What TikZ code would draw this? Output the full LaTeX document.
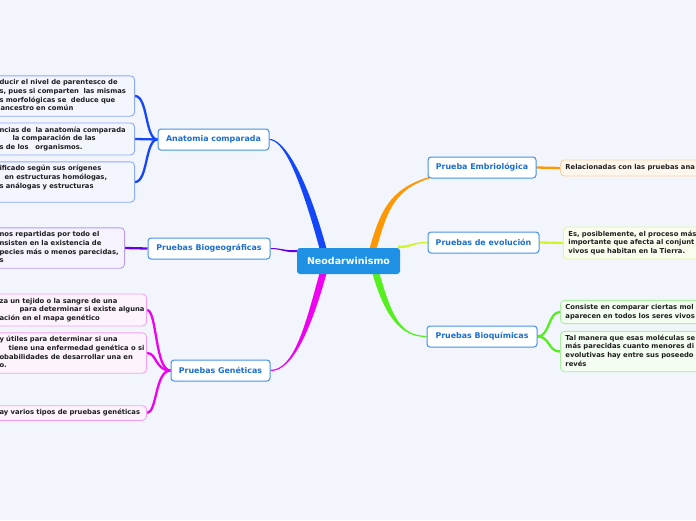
\documentclass[tikz,border=0pt]{standalone}
\usepackage{fontspec}
\setmainfont{DejaVu Sans}
\usetikzlibrary{calc,backgrounds}
\definecolor{bgc}{RGB}{243,245,253}
\definecolor{cA}{RGB}{20,70,250}
\definecolor{cB}{RGB}{100,0,230}
\definecolor{cG}{RGB}{240,0,240}
\definecolor{cE}{RGB}{255,152,0}
\definecolor{cV}{RGB}{205,245,40}
\definecolor{cQ}{RGB}{85,238,30}
\definecolor{topicborder}{RGB}{70,145,230}
\definecolor{topictext}{RGB}{28,110,210}
\definecolor{neofill}{RGB}{30,145,228}
\definecolor{bA}{RGB}{140,170,250}\definecolor{fA}{RGB}{243,246,255}
\definecolor{bB}{RGB}{185,155,240}\definecolor{fB}{RGB}{246,243,255}
\definecolor{bG}{RGB}{245,160,245}\definecolor{fG}{RGB}{253,243,253}
\definecolor{bE}{RGB}{250,210,160}\definecolor{fE}{RGB}{255,247,237}
\definecolor{bV}{RGB}{225,245,170}\definecolor{fV}{RGB}{250,253,238}
\definecolor{bQ}{RGB}{170,240,160}\definecolor{fQ}{RGB}{243,253,241}
\newenvironment{lines}{\renewcommand\arraystretch{1}\setlength\tabcolsep{0pt}\begin{tabular}{@{}l@{}}}{\end{tabular}}
% tapered branch: color, start, ctrl1, ctrl2, end, start half-width, end half-width
\newcommand\taper[7]{\fill[#1] ($(#2)+(#6)$) .. controls ($(#3)+(#6)$) and ($(#4)+(#7)$) .. ($(#5)+(#7)$) -- ($(#5)-(#7)$) .. controls ($(#4)-(#7)$) and ($(#3)-(#6)$) .. ($(#2)-(#6)$) -- cycle;}
\begin{document}
\begin{tikzpicture}[x=1pt,y=-1pt,
  neo/.style={fill=neofill,rounded corners=3pt,minimum width=103pt,minimum height=26pt,inner sep=0pt,text=white,font=\bfseries\fontsize{9.5}{11}\selectfont},
  topic/.style={draw=topicborder,line width=1pt,fill=white,rounded corners=3pt,minimum height=21pt,inner sep=0pt,text=topictext,font=\bfseries\fontsize{7.9}{9}\selectfont},
  sub/.style={line width=0.9pt,rounded corners=4pt,inner xsep=5pt,inner ysep=3pt,align=left,text=black!88,font=\bfseries\fontsize{6.8}{8.6}\selectfont},
  lsub/.style={sub,anchor=east},
  rsub/.style={sub,anchor=west,text width=200pt},
  sb/.style={line width=2.3pt}]
\useasboundingbox (0,0) rectangle (696,520);
\begin{pgfonlayer}{background}
\fill[bgc] (0,0) rectangle (696,520);
\end{pgfonlayer}
% central and topics
\node[neo] (neo) at (348.5,261) {Neodarwinismo};
\node[topic,minimum width=111pt] (anat) at (213.5,139.5) {Anatomia comparada};
\node[topic,minimum width=122pt] (bio) at (209,248.5) {Pruebas Biogeográficas};
\node[topic,minimum width=99pt] (gen) at (220.5,370.5) {Pruebas Genéticas};
\node[topic,minimum width=108pt] (emb) at (482,167.5) {Prueba Embriológica};
\node[topic,minimum width=111pt] (evo) at (483.5,242.5) {Pruebas de evolución};
\node[topic,minimum width=110pt] (bq) at (482,336.5) {Pruebas Bioquímicas};
% left subtopics
\node[lsub,draw=bA,fill=fA,text width=130pt,minimum height=40pt] (a1) at (135,96) {\begin{lines}ducir el nivel de parentesco de\\ s, pues si comparten~ las mismas\\ s morfológicas se~ deduce que\\ \hspace*{1pt}ancestro en común\end{lines}};
\node[lsub,draw=bA,fill=fA,text width=130pt,minimum height=32pt] (a2) at (135,139) {\begin{lines}ncias de~ la anatomía comparada\\ \hspace*{13pt}la comparación de las\\ s de los~~ organismos.\end{lines}};
\node[lsub,draw=bA,fill=fA,text width=130pt,minimum height=40pt] (a3) at (135,182) {\begin{lines}ificado según sus orígenes\\ \hspace*{5pt}en estructuras homólogas,\\ s análogas y estructuras\\ \mbox{}\end{lines}};
\node[lsub,draw=bB,fill=fB,text width=120pt,minimum height=40pt] (bg) at (125,248) {\begin{lines}nos repartidas por todo el\\ nsisten en la existencia de\\ pecies más o menos parecidas,\\ s\end{lines}};
\node[lsub,draw=bG,fill=fG,text width=142pt,minimum height=32pt] (g1) at (147,310) {\begin{lines}za un tejido o la sangre de una\\ \hspace*{20pt}para determinar si existe alguna\\ ación en el mapa genético\end{lines}};
\node[lsub,draw=bG,fill=fG,text width=142pt,minimum height=40pt] (g2) at (147,353) {\begin{lines}y útiles para determinar si una\\ \hspace*{9pt}tiene una enfermedad genética o si\\ obabilidades de desarrollar una en\\ o.\end{lines}};
\node[lsub,draw=bG,fill=fG,text width=142pt,minimum height=14pt] (g3) at (147,413) {\begin{lines}ay varios tipos de pruebas genéticas\end{lines}};
% right subtopics
\node[rsub,draw=bE,fill=fE,minimum height=16pt] (es) at (560,168) {\begin{lines}Relacionadas con las pruebas ana\end{lines}};
\node[rsub,draw=bV,fill=fV,minimum height=32pt] (vs) at (563,243) {\begin{lines}Es, posiblemente, el proceso más\\ importante que afecta al conjunt\\ vivos que habitan en la Tierra.\end{lines}};
\node[rsub,draw=bQ,fill=fQ,minimum height=23pt] (b1) at (560,312) {\begin{lines}Consiste en comparar ciertas mol\\ aparecen en todos los seres vivos\end{lines}};
\node[rsub,draw=bQ,fill=fQ,minimum height=40pt] (b2) at (560,351.5) {\begin{lines}Tal manera que esas moléculas se\\ más parecidas cuanto menores di\\ evolutivas hay entre sus poseedo\\ revés\end{lines}};
% connectors behind nodes
\begin{pgfonlayer}{background}
\coordinate (nA) at ($(neo.north west)+(26,0)$);
\coordinate (nE) at ($(neo.north east)+(-27,0)$);
\coordinate (nG) at ($(neo.south west)+(26,0)$);
\coordinate (nQ) at ($(neo.south east)+(-24,0)$);
\coordinate (nB) at ($(neo.west)+(0,-10)$);
\coordinate (nV) at ($(neo.east)+(-2,-14)$);
\taper{cA}{nA}{301,168}{282,139.5}{anat.east}{3.5,0}{0,-0.6}
\taper{cE}{nE}{390,190}{400,167.5}{emb.east}{3.5,0}{0,0.6}
\taper{cG}{nG}{310,320}{295,370.5}{gen.east}{-3.5,0}{0,-0.6}
\taper{cQ}{nQ}{388,315}{400,336.5}{bq.west}{-3.5,0}{0,0.6}
\taper{cB}{nB}{285,252}{282,248.5}{bio.east}{0,-1}{0,-0.5}
\taper{cV}{nV}{412,247}{412,242.5}{evo.west}{0,1.3}{0,0.6}
% sub branches
\draw[sb,cA] (anat.west) .. controls (145,139.5) and (148,96) .. (a1.east);
\draw[sb,cA] (anat.west) -- (a2.east);
\draw[sb,cA] (anat.west) .. controls (145,139.5) and (148,182) .. (a3.east);
\draw[sb,cB] (bio.west) -- (bg.east);
\draw[sb,cG] (gen.west) .. controls (155,370.5) and (157,310) .. (g1.east);
\draw[sb,cG] (gen.west) .. controls (155,370.5) and (157,353) .. (g2.east);
\draw[sb,cG] (gen.west) .. controls (155,370.5) and (157,413) .. (g3.east);
\draw[sb,cE] (emb.east) -- (es.west);
\draw[sb,cV] (evo.east) -- (vs.west);
\draw[sb,cQ] (bq.east) .. controls (550,336.5) and (548,312) .. (b1.west);
\draw[sb,cQ] (bq.east) .. controls (550,336.5) and (548,351.5) .. (b2.west);
\end{pgfonlayer}
\end{tikzpicture}
\end{document}
